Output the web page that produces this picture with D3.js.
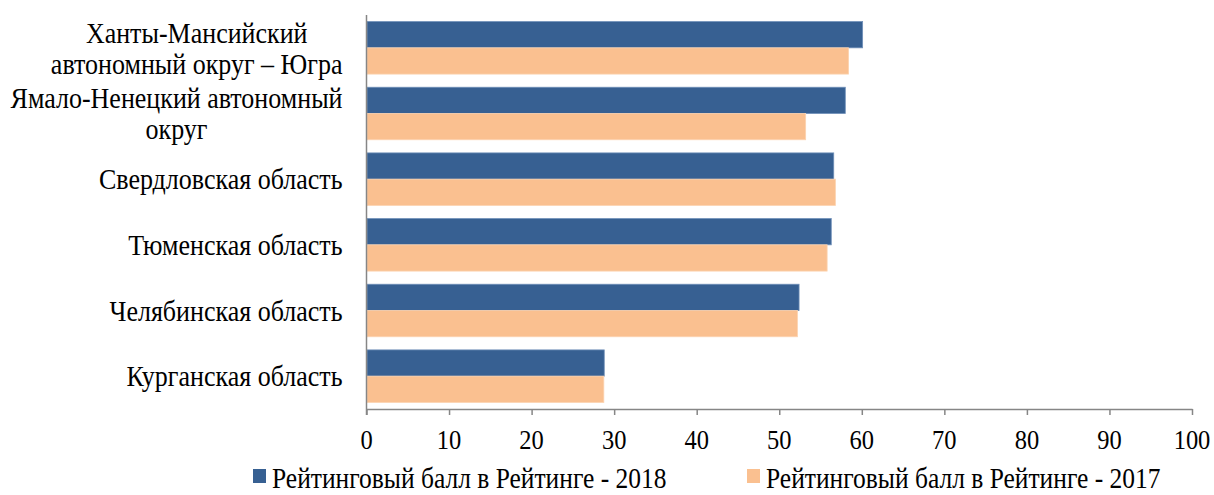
<!DOCTYPE html>
<html>
<head>
<meta charset="utf-8">
<script src="https://cdn.jsdelivr.net/npm/d3@7"></script>
<style>
  body { margin: 0; background: #fff; }
  text { font-family: "Liberation Serif", "Times New Roman", serif; fill: #000; }
</style>
</head>
<body>
<svg id="chart" width="1214" height="495"></svg>
<script>
// regions, top to bottom; each entry is the lines of the label
var regions = [
    ["Ханты-Мансийский", "автономный округ – Югра"],
    ["Ямало-Ненецкий автономный", "округ"],
    ["Свердловская область"],
    ["Тюменская область"],
    ["Челябинская область"],
    ["Курганская область"]
];
var score2018 = [60.1, 58.0, 56.6, 56.3, 52.4, 28.8];
var score2017 = [58.4, 53.2, 56.8, 55.8, 52.2, 28.75];
var seriesNames = ["Рейтинговый балл в Рейтинге - 2018", "Рейтинговый балл в Рейтинге - 2017"];
var xTicks = [0, 10, 20, 30, 40, 50, 60, 70, 80, 90, 100];

var colors = ["#376092", "#FAC090"];
var strokes = ["#6f8fb8", "#fcd3b0"];
var stretch = 1.12; // text in the picture is a bit taller than wide

var margin = {top: 15, right: 22, bottom: 86, left: 366.5},
    width = 1214 - margin.left - margin.right,
    height = 495 - margin.top - margin.bottom;

var svg = d3.select("#chart")
    .append("g")
    .attr("transform", "translate(" + margin.left + "," + margin.top + ")");

var x = d3.scaleLinear().domain([0, 100]).range([0, width]);
var y = d3.scaleBand().domain(d3.range(regions.length)).range([0, height])
    .paddingInner(0.2).paddingOuter(0.1);
var ySub = d3.scaleBand().domain([0, 1]).range([0, y.bandwidth()]);

function putText(parent, tx, ty, size, anchor, str) {
    return parent.append("text")
        .attr("transform", "translate(" + tx + "," + ty + ") scale(1," + stretch + ")")
        .attr("dy", "0.35em")
        .attr("text-anchor", anchor)
        .style("font-size", size + "px")
        .text(str);
}

// bars
var groups = svg.selectAll(".grp")
    .data(regions.map(function (r, i) { return [score2018[i], score2017[i]]; }))
    .enter().append("g")
    .attr("transform", function (d, i) { return "translate(0," + y(i) + ")"; });

groups.selectAll("rect")
    .data(function (d) { return d; })
    .enter().append("rect")
    .attr("x", 0.5)
    .attr("y", function (d, j) { return ySub(j); })
    .attr("width", function (d) { return x(d) - 0.5; })
    .attr("height", ySub.bandwidth())
    .attr("fill", function (d, j) { return colors[j]; })
    .attr("stroke", function (d, j) { return strokes[j]; })
    .attr("stroke-width", 0.8);

// x axis
var xAxis = svg.append("g")
    .attr("transform", "translate(0," + height + ")")
    .call(d3.axisBottom(x).tickValues(xTicks).tickSize(6).tickSizeOuter(0).tickFormat(""));
xAxis.select(".domain").attr("stroke", "#868686").attr("stroke-width", 1.5);
xAxis.selectAll(".tick line").attr("stroke", "#868686").attr("stroke-width", 1.5);
xTicks.forEach(function (t) {
    putText(svg, x(t), height + 30, 24.5, "middle", t);
});

// y axis line
svg.append("line")
    .attr("x1", 0).attr("x2", 0)
    .attr("y1", 0).attr("y2", height + 6)
    .attr("stroke", "#868686").attr("stroke-width", 1.5);

// category labels: block right-aligned, lines centered inside block
var lineH = 31;
regions.forEach(function (lines, i) {
    var g = svg.append("g");
    var cy = y(i) + y.bandwidth() / 2;
    var texts = lines.map(function (l, k) {
        return putText(g, 0, cy + (k - (lines.length - 1) / 2) * lineH, 26, "middle", l);
    });
    var maxW = d3.max(texts, function (t) { return t.node().getComputedTextLength(); });
    texts.forEach(function (t, k) {
        var ty = cy + (k - (lines.length - 1) / 2) * lineH;
        t.attr("transform", "translate(" + (-24 - maxW / 2) + "," + ty + ") scale(1," + stretch + ")");
    });
});

// legend
var legend = d3.select("#chart").append("g");
var legX = [253, 747];
seriesNames.forEach(function (name, j) {
    legend.append("rect")
        .attr("x", legX[j]).attr("y", 469)
        .attr("width", 13).attr("height", 14)
        .attr("fill", colors[j]);
    putText(legend, legX[j] + 19, 478, 25.5, "start", name);
});
</script>
</body>
</html>
